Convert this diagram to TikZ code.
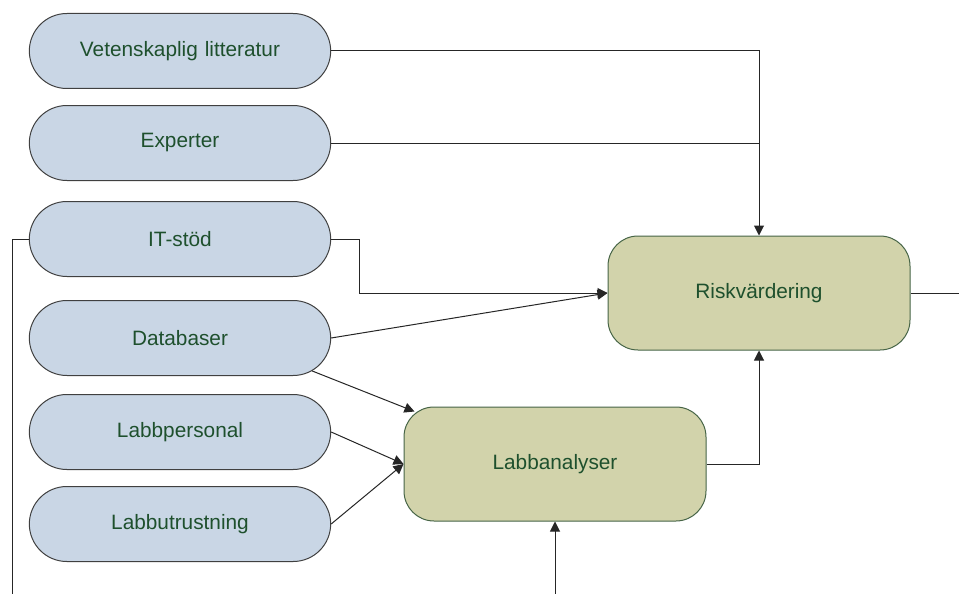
\documentclass[tikz,border=0pt]{standalone}
\usepackage{fontspec}
\setmainfont{Liberation Sans}
\usetikzlibrary{shapes.misc,arrows.meta,calc}
\definecolor{pillblue}{RGB}{201,214,229}
\definecolor{boxolive}{RGB}{210,211,171}
\definecolor{boxedge}{RGB}{70,100,70}
\definecolor{textgreen}{RGB}{30,80,45}
\begin{document}
\begin{tikzpicture}[x=1pt,y=-1pt,line width=1pt]
	\tikzstyle{kalla}=[rounded rectangle,draw=black!75,fill=pillblue,minimum width=308pt,minimum height=75pt,text width=250pt,align=center,text=textgreen,font=\fontsize{20.8}{25}\selectfont];
	\tikzstyle{steg}=[rectangle,rounded corners=30pt,draw=boxedge,fill=boxolive,minimum width=302pt,minimum height=114pt,text=textgreen,font=\fontsize{20.8}{25}\selectfont];
	\tikzstyle{pil}=[draw=black!85,-{Triangle[length=10pt,width=10pt]}];
	\useasboundingbox (0,0) rectangle (959,594);
	\node[kalla] (lit) at (180,51) {Vetenskaplig litteratur};
	\node[kalla] (exp) at (180,143) {Experter};
	\node[kalla] (it) at (180,239) {IT-stöd};
	\node[kalla] (data) at (180,338) {Databaser};
	\node[kalla] (pers) at (180,432) {Labbpersonal};
	\node[kalla] (utr) at (180,524) {Labbutrustning};
	\node[steg] (risk) at (759,293) {Riskvärdering};
	\node[steg] (lab) at (555,464) {Labbanalyser};
	\coordinate (itlow) at (12,594);
	\coordinate (labin) at (555,594);
	\coordinate (riskout) at (959,293);
	\draw[pil] (lit.east) -| (risk.north);
	\draw[draw=black!85] (exp.east) -- (exp.east -| risk.north);
	\draw[pil] (it.east) -- ++(28,0) |- (risk.west);
	\draw[pil] (data.east) -- (risk.west);
	\draw[pil] (data.-14) -- ($(lab.north west)+(11,5)$);
	\draw[pil] (pers.east) -- (lab.west);
	\draw[pil] (utr.east) -- (lab.west);
	\draw[draw=black!85] (it.west) -| (itlow);
	\draw[pil] (labin) -- (lab.south);
	\draw[pil] (lab.east) -| (risk.south);
	\draw[draw=black!85] (risk.east) -- (riskout);
\end{tikzpicture}
\end{document}
